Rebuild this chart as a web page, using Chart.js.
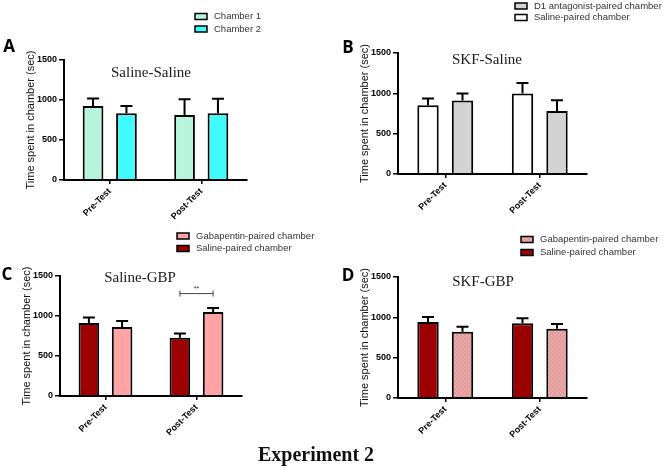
<!DOCTYPE html>
<html>
<head>
<meta charset="utf-8">
<script src="https://cdn.jsdelivr.net/npm/chart.js@4.4.1/dist/chart.umd.min.js"></script>
<style>
  html, body { margin: 0; padding: 0; background: #fff; }
  body { width: 669px; height: 469px; position: relative; overflow: hidden; }
  canvas { position: absolute; }
  #caption {
    position: absolute; left: 0; width: 632px; top: 443px; text-align: center;
    font: bold 20px "Liberation Serif", "Times New Roman", serif; color: #111;
  }
</style>
</head>
<body>
<canvas id="panelA" width="330" height="230" style="left:0;top:0;width:330px;height:230px"></canvas>
<canvas id="panelB" width="339" height="230" style="left:330px;top:0;width:339px;height:230px"></canvas>
<canvas id="panelC" width="330" height="215" style="left:0;top:230px;width:330px;height:215px"></canvas>
<canvas id="panelD" width="339" height="215" style="left:330px;top:230px;width:339px;height:215px"></canvas>
<div id="caption">Experiment 2</div>
<script>
// groups on the x axis and y tick values (shared by all panels)
const groups = ['Pre-Test', 'Post-Test'];
const yTicks = [0, 500, 1000, 1500];

// A: Saline-Saline
const chamber1 = [925, 812];
const chamber1Sem = [95, 196];
const chamber2 = [833, 833];
const chamber2Sem = [92, 184];

// B: SKF-Saline
const salineB = [852, 997];
const salineBSem = [83, 131];
const d1B = [910, 781];
const d1BSem = [87, 133];

// C: Saline-GBP
const salineC = [914, 727];
const salineCSem = [67, 55];
const gbpC = [864, 1051];
const gbpCSem = [75, 50];

// D: SKF-GBP
const salineD = [941, 928];
const salineDSem = [62, 62];
const gbpD = [820, 857];
const gbpDSem = [62, 59];

const SANS = 'Liberation Sans, Arial, sans-serif';

function checker() {
  const c = document.createElement('canvas');
  c.width = 4; c.height = 4;
  const g = c.getContext('2d');
  g.fillStyle = '#f39494';
  g.fillRect(0, 0, 4, 4);
  g.fillStyle = '#d9b0b0';
  g.fillRect(0, 0, 2, 2);
  g.fillRect(2, 2, 2, 2);
  return g.createPattern(c, 'repeat');
}

// error bars, significance bracket, panel title, letter and legend
const panelDeco = {
  id: 'panelDeco',
  afterDatasetsDraw(chart, args, opts) {
    const ctx = chart.ctx, y = chart.scales.y;
    ctx.save();
    ctx.strokeStyle = '#000';
    ctx.lineWidth = 2;
    chart.data.datasets.forEach((ds, i) => {
      chart.getDatasetMeta(i).data.forEach((bar, j) => {
        const top = y.getPixelForValue(ds.data[j] + ds.sem[j]);
        ctx.beginPath();
        ctx.moveTo(bar.x, bar.y);
        ctx.lineTo(bar.x, top);
        ctx.moveTo(bar.x - 6, top);
        ctx.lineTo(bar.x + 6, top);
        ctx.stroke();
      });
    });
    (opts.sig || []).forEach(s => {
      const a = chart.getDatasetMeta(0).data[s.group];
      const b = chart.getDatasetMeta(1).data[s.group];
      const yy = y.getPixelForValue(s.level);
      ctx.strokeStyle = '#444';
      ctx.lineWidth = 1;
      ctx.beginPath();
      ctx.moveTo(a.x, yy); ctx.lineTo(b.x, yy);
      ctx.moveTo(a.x, yy - 3); ctx.lineTo(a.x, yy + 3);
      ctx.moveTo(b.x, yy - 3); ctx.lineTo(b.x, yy + 3);
      ctx.stroke();
      ctx.fillStyle = '#333';
      ctx.font = '7px ' + SANS;
      ctx.textAlign = 'center';
      ctx.textBaseline = 'bottom';
      ctx.fillText(s.label, (a.x + b.x) / 2, yy - 1);
    });
    ctx.restore();
  },
  afterDraw(chart, args, opts) {
    const ctx = chart.ctx;
    ctx.save();
    ctx.fillStyle = '#1a1a1a';
    ctx.font = '15px "Liberation Serif", "Times New Roman", serif';
    ctx.textAlign = 'center';
    ctx.textBaseline = 'middle';
    ctx.fillText(opts.title, opts.titleAt[0], opts.titleAt[1]);

    ctx.fillStyle = '#000';
    ctx.font = 'bold 17px "Open Sans", ' + SANS;
    ctx.fillText(opts.letter, opts.letterAt[0], opts.letterAt[1]);

    ctx.font = '9.5px ' + SANS;
    ctx.textAlign = 'left';
    const [lx, ly, gap] = opts.legendAt;
    opts.legendOrder.forEach((di, k) => {
      const ds = chart.data.datasets[di];
      const cy = ly + k * gap;
      ctx.fillStyle = ds.backgroundColor;
      ctx.fillRect(lx, cy - 3, 12, 6);
      ctx.strokeStyle = '#000';
      ctx.lineWidth = 1.5;
      ctx.strokeRect(lx, cy - 3, 12, 6);
      ctx.fillStyle = '#333';
      ctx.fillText(ds.label, lx + 19, cy);
    });
    ctx.restore();
  }
};

function makePanel(id, p) {
  return new Chart(document.getElementById(id), {
    type: 'bar',
    data: {
      labels: groups,
      datasets: p.series.map(s => ({
        label: s.label,
        data: s.values,
        sem: s.sem,
        backgroundColor: s.color,
        borderColor: '#000',
        borderWidth: 2,
        categoryPercentage: 0.73,
        barPercentage: 0.62
      }))
    },
    options: {
      responsive: false,
      animation: false,
      layout: { padding: p.pad },
      plugins: {
        legend: { display: false },
        tooltip: { enabled: false },
        panelDeco: p.deco
      },
      scales: {
        x: {
          afterFit: s => { s.height = p.xH; },
          grid: { display: true, offset: false, drawOnChartArea: false, drawTicks: true, tickLength: 4, color: '#000', lineWidth: 1.5 },
          border: { color: '#000', width: 2, z: 1 },
          ticks: {
            color: '#000', autoSkip: false, minRotation: 45, maxRotation: 45, padding: 2,
            font: { family: SANS, size: 9, weight: 'bold' }
          }
        },
        y: {
          min: 0, max: 1500,
          afterBuildTicks: s => { s.ticks = yTicks.map(v => ({ value: v })); },
          afterFit: s => { s.width = 44; },
          grid: { drawOnChartArea: false, drawTicks: true, tickLength: 5, color: '#000', lineWidth: 1.5 },
          border: { color: '#000', width: 2 },
          ticks: {
            color: '#000', padding: 2, callback: v => String(v),
            font: { family: SANS, size: 9, weight: 'bold' }
          },
          title: {
            display: true, text: 'Time spent in chamber (sec)', color: '#111',
            padding: { top: 4, bottom: 2 }, font: { family: SANS, size: 11 }
          }
        }
      }
    },
    plugins: [panelDeco]
  });
}

const mint = '#b4f5dc', cyan = '#40fafd', grey = '#d3d3d3', white = '#ffffff';
const darkRed = '#9c0000', pink = '#ffa3a4';

makePanel('panelA', {
  pad: { left: 20, right: 83, top: 60, bottom: 4 }, xH: 46,
  series: [
    { label: 'Chamber 1', values: chamber1, sem: chamber1Sem, color: mint },
    { label: 'Chamber 2', values: chamber2, sem: chamber2Sem, color: cyan }
  ],
  deco: { title: 'Saline-Saline', titleAt: [151, 73], letter: 'A', letterAt: [9, 47],
          legendAt: [195, 16.5, 12.5], legendOrder: [0, 1] }
});

makePanel('panelB', {
  pad: { left: 24, right: 82, top: 53, bottom: 10 }, xH: 46,
  series: [
    { label: 'Saline-paired chamber', values: salineB, sem: salineBSem, color: white },
    { label: 'D1 antagonist-paired chamber', values: d1B, sem: d1BSem, color: grey }
  ],
  deco: { title: 'SKF-Saline', titleAt: [157, 60], letter: 'B', letterAt: [18, 48],
          legendAt: [185, 6, 11.5], legendOrder: [1, 0] }
});

makePanel('panelC', {
  pad: { left: 16, right: 88, top: 46, bottom: 3 }, xH: 46,
  series: [
    { label: 'Saline-paired chamber', values: salineC, sem: salineCSem, color: darkRed },
    { label: 'Gabapentin-paired chamber', values: gbpC, sem: gbpCSem, color: pink }
  ],
  deco: { title: 'Saline-GBP', titleAt: [140, 48], letter: 'C', letterAt: [7, 45],
          legendAt: [177, 6, 12.5], legendOrder: [1, 0],
          sig: [{ group: 1, level: 1280, label: '**' }] }
});

makePanel('panelD', {
  pad: { left: 24, right: 82, top: 47, bottom: 1 }, xH: 46,
  series: [
    { label: 'Saline-paired chamber', values: salineD, sem: salineDSem, color: darkRed },
    { label: 'Gabapentin-paired chamber', values: gbpD, sem: gbpDSem, color: checker() }
  ],
  deco: { title: 'SKF-GBP', titleAt: [153, 52], letter: 'D', letterAt: [18, 46],
          legendAt: [191, 9.5, 13], legendOrder: [1, 0] }
});
</script>
</body>
</html>
